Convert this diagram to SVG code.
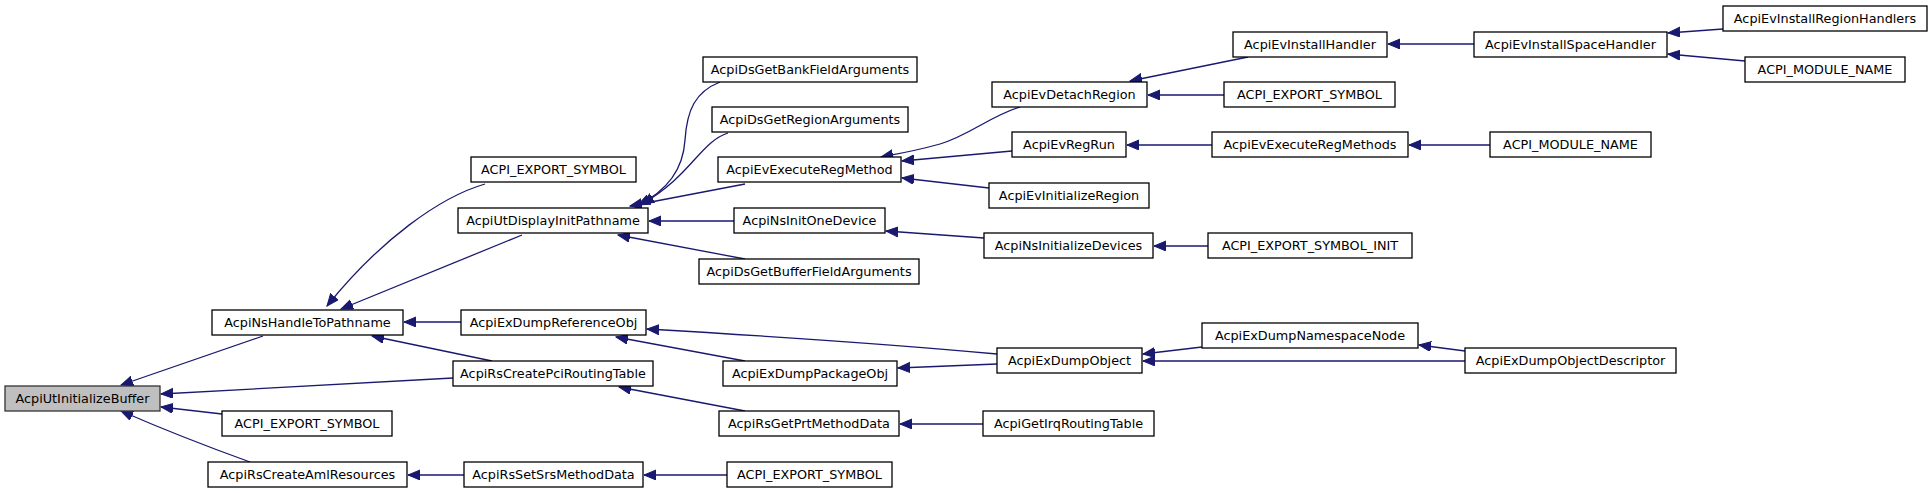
<svg xmlns="http://www.w3.org/2000/svg" width="1932" height="493" viewBox="0 0 1932 493">
<defs>
<marker id="ah" markerUnits="userSpaceOnUse" markerWidth="14" markerHeight="12" refX="12" refY="5" orient="auto">
<path d="M0,0 L12,5 L0,10 z" fill="#191970" stroke="#191970" stroke-width="1"/>
</marker>
<style>
.n rect{fill:#fff;stroke:#000;stroke-width:1.3}
.n.main rect{fill:#bfbfbf;stroke:#333}
.n text{font-family:"DejaVu Sans",sans-serif;font-size:12.8px;text-anchor:middle;fill:#000}
#edges path{fill:none;stroke:#191970;stroke-width:1.3;marker-end:url(#ah)}
</style>
</defs>
<rect width="1932" height="493" fill="#fff"/>
<g id="edges">
<path d="M263,336 L121,385"/>
<path d="M453,378 L161,394"/>
<path d="M222,414 L161,407"/>
<path d="M250,462 C200,444 160,428 121,411"/>
<path d="M485,184 C440,197 380,240 327,306"/>
<path d="M522,235 L341,309"/>
<path d="M461,322 L404,322"/>
<path d="M492,361 L372,336"/>
<path d="M720,82 C695,92 687,110 685,140 C683,172 665,192 638,205"/>
<path d="M728,133 C700,142 692,175 642,204"/>
<path d="M745,184 L630,206"/>
<path d="M734,221 L649,221"/>
<path d="M745,259 L618,235"/>
<path d="M1020,107 C990,116 970,135 940,144 C915,151 897,154 881,157"/>
<path d="M1012,151 L902,161"/>
<path d="M989,188 L902,178"/>
<path d="M984,238 L886,231"/>
<path d="M1248,57 L1130,81"/>
<path d="M1224,95 L1148,95"/>
<path d="M1212,145 L1127,145"/>
<path d="M1208,246 L1154,246"/>
<path d="M1474,44 L1388,44"/>
<path d="M1723,29 L1668,33"/>
<path d="M1745,61 L1668,54"/>
<path d="M1490,145 L1409,145"/>
<path d="M997,354 C900,345 750,335 647,329"/>
<path d="M745,361 L616,337"/>
<path d="M997,364 L898,368"/>
<path d="M1202,347 L1143,354"/>
<path d="M1465,361 L1143,361"/>
<path d="M1465,351 L1419,345"/>
<path d="M745,411 L619,387"/>
<path d="M983,424 L900,424"/>
<path d="M464,475 L408,475"/>
<path d="M727,475 L644,475"/>
</g>
<g id="n0" class="n main"><rect x="5" y="386" width="155" height="25"/><text x="82.5" y="403">AcpiUtInitializeBuffer</text></g>
<g id="n1" class="n"><rect x="212" y="310" width="191" height="25"/><text x="307.5" y="327">AcpiNsHandleToPathname</text></g>
<g id="n2" class="n"><rect x="222" y="411" width="170" height="25"/><text x="307" y="428">ACPI_EXPORT_SYMBOL</text></g>
<g id="n3" class="n"><rect x="208" y="462" width="199" height="25"/><text x="307.5" y="479">AcpiRsCreateAmlResources</text></g>
<g id="n4" class="n"><rect x="471" y="157" width="165" height="25"/><text x="553.5" y="174">ACPI_EXPORT_SYMBOL</text></g>
<g id="n5" class="n"><rect x="458" y="208" width="190" height="25"/><text x="553" y="225">AcpiUtDisplayInitPathname</text></g>
<g id="n6" class="n"><rect x="461" y="310" width="185" height="25"/><text x="553.5" y="327">AcpiExDumpReferenceObj</text></g>
<g id="n7" class="n"><rect x="453" y="361" width="200" height="25"/><text x="553" y="378">AcpiRsCreatePciRoutingTable</text></g>
<g id="n8" class="n"><rect x="464" y="462" width="179" height="25"/><text x="553.5" y="479">AcpiRsSetSrsMethodData</text></g>
<g id="n9" class="n"><rect x="703" y="57" width="214" height="25"/><text x="810" y="74">AcpiDsGetBankFieldArguments</text></g>
<g id="n10" class="n"><rect x="712" y="107" width="196" height="25"/><text x="810" y="124">AcpiDsGetRegionArguments</text></g>
<g id="n11" class="n"><rect x="718" y="157" width="183" height="25"/><text x="809.5" y="174">AcpiEvExecuteRegMethod</text></g>
<g id="n12" class="n"><rect x="734" y="208" width="151" height="25"/><text x="809.5" y="225">AcpiNsInitOneDevice</text></g>
<g id="n13" class="n"><rect x="699" y="259" width="220" height="25"/><text x="809" y="276">AcpiDsGetBufferFieldArguments</text></g>
<g id="n14" class="n"><rect x="723" y="361" width="174" height="25"/><text x="810" y="378">AcpiExDumpPackageObj</text></g>
<g id="n15" class="n"><rect x="719" y="411" width="180" height="25"/><text x="809" y="428">AcpiRsGetPrtMethodData</text></g>
<g id="n16" class="n"><rect x="727" y="462" width="165" height="25"/><text x="809.5" y="479">ACPI_EXPORT_SYMBOL</text></g>
<g id="n17" class="n"><rect x="992" y="82" width="155" height="25"/><text x="1069.5" y="99">AcpiEvDetachRegion</text></g>
<g id="n18" class="n"><rect x="1012" y="132" width="114" height="25"/><text x="1069" y="149">AcpiEvRegRun</text></g>
<g id="n19" class="n"><rect x="989" y="183" width="160" height="25"/><text x="1069" y="200">AcpiEvInitializeRegion</text></g>
<g id="n20" class="n"><rect x="984" y="233" width="169" height="25"/><text x="1068.5" y="250">AcpiNsInitializeDevices</text></g>
<g id="n21" class="n"><rect x="997" y="348" width="145" height="25"/><text x="1069.5" y="365">AcpiExDumpObject</text></g>
<g id="n22" class="n"><rect x="983" y="411" width="171" height="25"/><text x="1068.5" y="428">AcpiGetIrqRoutingTable</text></g>
<g id="n23" class="n"><rect x="1233" y="32" width="154" height="25"/><text x="1310" y="49">AcpiEvInstallHandler</text></g>
<g id="n24" class="n"><rect x="1224" y="82" width="171" height="25"/><text x="1309.5" y="99">ACPI_EXPORT_SYMBOL</text></g>
<g id="n25" class="n"><rect x="1212" y="132" width="196" height="25"/><text x="1310" y="149">AcpiEvExecuteRegMethods</text></g>
<g id="n26" class="n"><rect x="1208" y="233" width="204" height="25"/><text x="1310" y="250">ACPI_EXPORT_SYMBOL_INIT</text></g>
<g id="n27" class="n"><rect x="1202" y="323" width="216" height="25"/><text x="1310" y="340">AcpiExDumpNamespaceNode</text></g>
<g id="n28" class="n"><rect x="1474" y="32" width="193" height="25"/><text x="1570.5" y="49">AcpiEvInstallSpaceHandler</text></g>
<g id="n29" class="n"><rect x="1490" y="132" width="161" height="25"/><text x="1570.5" y="149">ACPI_MODULE_NAME</text></g>
<g id="n30" class="n"><rect x="1465" y="348" width="211" height="25"/><text x="1570.5" y="365">AcpiExDumpObjectDescriptor</text></g>
<g id="n31" class="n"><rect x="1723" y="6" width="204" height="25"/><text x="1825" y="23">AcpiEvInstallRegionHandlers</text></g>
<g id="n32" class="n"><rect x="1745" y="57" width="160" height="25"/><text x="1825" y="74">ACPI_MODULE_NAME</text></g>
</svg>
